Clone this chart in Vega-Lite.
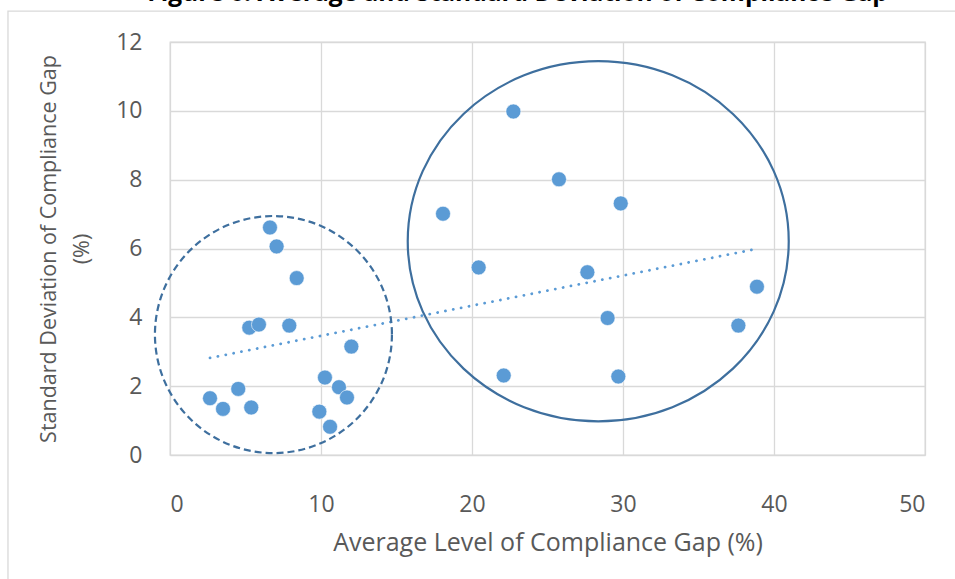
{
  "$schema": "https://vega.github.io/schema/vega-lite/v6.json",
  "width": 755,
  "height": 413,
  "autosize": {"type": "none"},
  "padding": {"left": 170, "top": 42, "right": 30, "bottom": 124},
  "background": "white",
  "title": {
    "text": "Figure 6: Average and Standard Deviation of Compliance Gap",
    "font": "Open Sans",
    "fontSize": 24.5,
    "fontWeight": "bold",
    "color": "#000000",
    "anchor": "middle",
    "baseline": "alphabetic",
    "dx": -30,
    "dy": 15,
    "offset": 0
  },
  "config": {
    "font": "Open Sans",
    "view": {"stroke": "#D9D9D9", "strokeWidth": 1.3},
    "axis": {
      "labelFont": "Open Sans",
      "labelFontSize": 23,
      "labelColor": "#595959",
      "titleFont": "Open Sans",
      "titleFontWeight": "normal",
      "titleColor": "#595959",
      "gridColor": "#D9D9D9",
      "gridWidth": 1.3,
      "domain": false,
      "ticks": false
    }
  },
  "datasets": {
    "frame": [{}],
    "points": [
      {"avg": 6.62, "sd": 6.61},
      {"avg": 7.06, "sd": 6.06},
      {"avg": 8.39, "sd": 5.14},
      {"avg": 5.25, "sd": 3.70},
      {"avg": 5.89, "sd": 3.79},
      {"avg": 7.90, "sd": 3.76},
      {"avg": 12.01, "sd": 3.15},
      {"avg": 2.65, "sd": 1.65},
      {"avg": 3.51, "sd": 1.34},
      {"avg": 4.52, "sd": 1.92},
      {"avg": 5.38, "sd": 1.38},
      {"avg": 10.26, "sd": 2.25},
      {"avg": 11.19, "sd": 1.97},
      {"avg": 11.72, "sd": 1.67},
      {"avg": 9.89, "sd": 1.26},
      {"avg": 10.60, "sd": 0.82},
      {"avg": 22.74, "sd": 9.98},
      {"avg": 25.76, "sd": 8.01},
      {"avg": 29.85, "sd": 7.31},
      {"avg": 18.08, "sd": 7.01},
      {"avg": 20.44, "sd": 5.45},
      {"avg": 27.64, "sd": 5.31},
      {"avg": 38.87, "sd": 4.89},
      {"avg": 28.98, "sd": 3.98},
      {"avg": 37.64, "sd": 3.76},
      {"avg": 22.10, "sd": 2.31},
      {"avg": 29.69, "sd": 2.28}
    ],
    "trend": [
      {"avg": 2.65, "sd": 2.82},
      {"avg": 38.87, "sd": 5.99}
    ],
    "clusters": [
      {"group": "low", "avg": 6.85, "sd": 3.50},
      {"group": "high", "avg": 28.36, "sd": 6.21}
    ]
  },
  "layer": [
    {
      "data": {"name": "frame"},
      "mark": {"type": "rect", "filled": false, "color": "#D9D9D9", "strokeWidth": 1.3, "clip": false},
      "encoding": {
        "x": {"datum": -10.73, "type": "quantitative", "scale": {"domain": [0, 50], "nice": false}},
        "x2": {"datum": 60},
        "y": {"datum": 12.9, "type": "quantitative", "scale": {"domain": [0, 12], "nice": false}},
        "y2": {"datum": -8}
      }
    },
    {
      "data": {"name": "trend"},
      "mark": {"type": "line", "color": "#5B9BD5", "strokeWidth": 2.8, "strokeDash": [0.1, 7.9], "strokeCap": "round"},
      "encoding": {
        "x": {"field": "avg", "type": "quantitative"},
        "y": {"field": "sd", "type": "quantitative"}
      }
    },
    {
      "data": {"name": "points"},
      "mark": {"type": "point", "shape": "circle", "filled": true, "size": 225, "color": "#5B9BD5", "opacity": 1, "stroke": "#FFFFFF", "strokeWidth": 0.6},
      "encoding": {
        "x": {
          "field": "avg", "type": "quantitative",
          "scale": {"domain": [0, 50], "nice": false},
          "axis": {"values": [0, 10, 20, 30, 40, 50], "title": "Average Level of Compliance Gap (%)", "titleFontSize": 25, "labelPadding": 38, "titlePadding": 14, "grid": true}
        },
        "y": {
          "field": "sd", "type": "quantitative",
          "scale": {"domain": [0, 12], "nice": false},
          "axis": {"values": [0, 2, 4, 6, 8, 10, 12], "title": ["Standard Deviation of Compliance Gap", "(%)"], "titleFontSize": 21.5, "titleLineHeight": 33, "labelPadding": 28, "titlePadding": 22, "grid": true}
        }
      }
    },
    {
      "data": {"name": "clusters"},
      "transform": [{"filter": "datum.group === 'low'"}],
      "mark": {"type": "point", "shape": "circle", "filled": false, "size": 56169, "stroke": "#3E6F9E", "strokeWidth": 2.2, "strokeDash": [7, 4], "opacity": 1, "clip": false},
      "encoding": {
        "x": {"field": "avg", "type": "quantitative"},
        "y": {"field": "sd", "type": "quantitative"}
      }
    },
    {
      "data": {"name": "clusters"},
      "transform": [{"filter": "datum.group === 'high'"}],
      "mark": {"type": "point", "shape": "M 1 0 C 1 0.5221 0.5523 0.9453 0 0.9453 C -0.5523 0.9453 -1 0.5221 -1 0 C -1 -0.5221 -0.5523 -0.9453 0 -0.9453 C 0.5523 -0.9453 1 -0.5221 1 0 Z", "filled": false, "size": 145161, "stroke": "#3E6F9E", "strokeWidth": 2.2, "opacity": 1, "clip": false},
      "encoding": {
        "x": {"field": "avg", "type": "quantitative"},
        "y": {"field": "sd", "type": "quantitative"}
      }
    }
  ]
}
